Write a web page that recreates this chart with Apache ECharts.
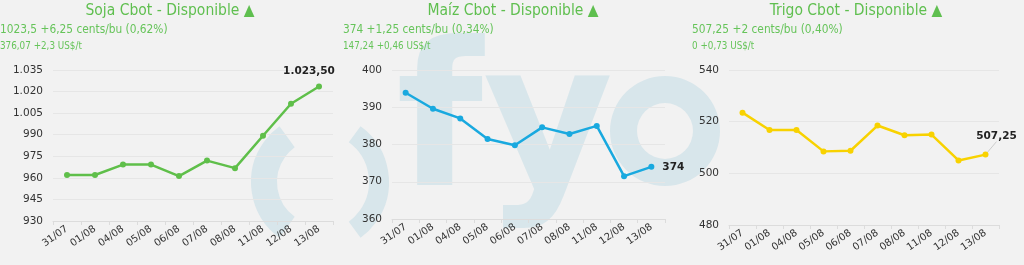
<!DOCTYPE html>
<html>
<head>
<meta charset="utf-8">
<script src="https://cdn.jsdelivr.net/npm/echarts@6/dist/echarts.min.js"></script>
<style>
html,body{margin:0;padding:0;background:#f2f2f2;}
#c{width:1024px;height:265px;}
</style>
</head>
<body>
<div id="c"></div>
<script>
var categories = ['31/07','01/08','04/08','05/08','06/08','07/08','08/08','11/08','12/08','13/08'];
var sojaValues = [962, 962, 969.25, 969.25, 961.25, 972, 966.75, 989.25, 1011.5, 1023.5];
var maizValues = [393.9, 389.6, 387, 381.5, 379.8, 384.6, 382.8, 385, 371.5, 374];
var trigoValues = [523.5, 516.75, 516.75, 508.5, 508.75, 518.5, 514.75, 515, 505, 507.25];
var titles = ['Soja Cbot - Disponible ▲', 'Maíz Cbot - Disponible ▲', 'Trigo Cbot - Disponible ▲'];
var sub1 = ['1023,5 +6,25 cents/bu (0,62%)', '374 +1,25 cents/bu (0,34%)', '507,25 +2 cents/bu (0,40%)'];
var sub2 = ['376,07 +2,3 US$/t', '147,24 +0,46 US$/t', '0 +0,73 US$/t'];
var sojaTicks = {min: 930, max: 1035, interval: 15};
var maizTicks = {min: 360, max: 400, interval: 10};
var trigoTicks = {min: 480, max: 540, interval: 20};

var green = '#5fbf4f';
var titleFont = '"Liberation Sans Narrow", "DejaVu Sans Condensed", sans-serif';
var axisFont = '"DejaVu Sans", Verdana, sans-serif';
var wm = '#d8e6eb';

function thousands(v) {
  var s = String(Math.round(v));
  return s.length > 3 ? s.slice(0, s.length - 3) + '.' + s.slice(s.length - 3) : s;
}
function fmtSoja(v) {
  var parts = v.toFixed(2).split('.');
  return thousands(+parts[0]) + ',' + parts[1];
}
function fmtMaiz(v) { return String(Math.round(v)); }
function fmtTrigo(v) { return v.toFixed(2).replace('.', ','); }

var grids = [
  {left: 53, top: 70, width: 280, height: 151},
  {left: 392, top: 70, width: 273, height: 149},
  {left: 729, top: 70, width: 270, height: 155}
];
var centers = [170, 513, 856];
var subLeft = [0, 343, 692];
var ticks = [sojaTicks, maizTicks, trigoTicks];
var values = [sojaValues, maizValues, trigoValues];
var colors = ['#5fbf4a', '#19a9df', '#f8d200'];
var labelFmt = [fmtSoja, fmtMaiz, fmtTrigo];

var titleArr = [];
for (var i = 0; i < 3; i++) {
  titleArr.push({text: titles[i], left: centers[i], top: 3, padding: 0, textAlign: 'center',
    textStyle: {color: green, fontSize: 15.5, fontWeight: 'normal', fontFamily: titleFont}});
  titleArr.push({text: sub1[i], left: subLeft[i], top: 24, padding: 0,
    textStyle: {color: '#66c45a', fontSize: 11.8, fontWeight: 'normal', fontFamily: titleFont}});
  titleArr.push({text: sub2[i], left: subLeft[i], top: 41, padding: 0,
    textStyle: {color: '#66c45a', fontSize: 9.8, fontWeight: 'normal', fontFamily: titleFont}});
}

var xAxes = [], yAxes = [], series = [];
for (var i = 0; i < 3; i++) {
  xAxes.push({type: 'category', gridIndex: i, data: categories, boundaryGap: true,
    axisLine: {lineStyle: {color: '#dcdcdc'}},
    axisTick: {show: true, length: 4, lineStyle: {color: '#dcdcdc'}},
    axisLabel: {rotate: 35, color: '#333', fontSize: 10, fontFamily: axisFont, margin: 7, interval: 0}
  });
  yAxes.push({type: 'value', gridIndex: i, min: ticks[i].min, max: ticks[i].max, interval: ticks[i].interval,
    axisLine: {show: false}, axisTick: {show: false},
    splitLine: {lineStyle: {color: '#e6e6e6'}},
    axisLabel: {color: '#333', fontSize: 10.5, fontFamily: axisFont, margin: 10,
      formatter: i === 0 ? function (v) { return thousands(v); } : function (v) { return String(v); }}
  });
  var fmt = labelFmt[i];
  var data = values[i].map(function (v, k, arr) {
    if (k === arr.length - 1) {
      return {value: v, label: {show: true}};
    }
    return v;
  });
  var lab = {show: false, color: '#222', fontWeight: 'bold', fontSize: 10.5, fontFamily: axisFont,
    formatter: (function (f) { return function (p) { return f(p.value); }; })(fmt)};
  var s = {type: 'line', xAxisIndex: i, yAxisIndex: i, data: data, symbol: 'circle', symbolSize: 6,
    lineStyle: {color: colors[i], width: 2.5}, itemStyle: {color: colors[i]}, label: lab, z: 3};
  if (i === 0) { lab.position = 'top'; lab.offset = [-10, -2]; }
  if (i === 1) { lab.position = 'right'; lab.distance = 8; }
  if (i === 2) {
    lab.position = 'top';
    s.labelLayout = {dx: 11, dy: -5};
    s.labelLine = {show: true, lineStyle: {color: '#cccccc', width: 1}};
  }
  series.push(s);
}

var graphics = [
  {type: 'text', z: -10, silent: true, x: 396, y: 133,
    style: {text: 'fy', font: 'bold 200px "DejaVu Sans"', fill: wm, textAlign: 'left', textVerticalAlign: 'middle'}},
  {type: 'ring', z: -10, silent: true, shape: {cx: 665, cy: 131, r: 55, r0: 28}, style: {fill: wm}},
  {type: 'arc', z: -10, silent: true, shape: {cx: 320, cy: 182, r: 56, startAngle: Math.PI * 0.7, endAngle: Math.PI * 1.3},
    style: {stroke: wm, lineWidth: 26, fill: null}},
  {type: 'arc', z: -10, silent: true, shape: {cx: 320, cy: 182, r: 59, startAngle: -Math.PI * 0.3, endAngle: Math.PI * 0.3},
    style: {stroke: wm, lineWidth: 20, fill: null}}
];

var chart = echarts.init(document.getElementById('c'), null, {renderer: 'canvas'});
chart.setOption({
  backgroundColor: '#f2f2f2',
  animation: false,
  title: titleArr,
  graphic: graphics,
  grid: grids,
  xAxis: xAxes,
  yAxis: yAxes,
  series: series
});
</script>
</body>
</html>
